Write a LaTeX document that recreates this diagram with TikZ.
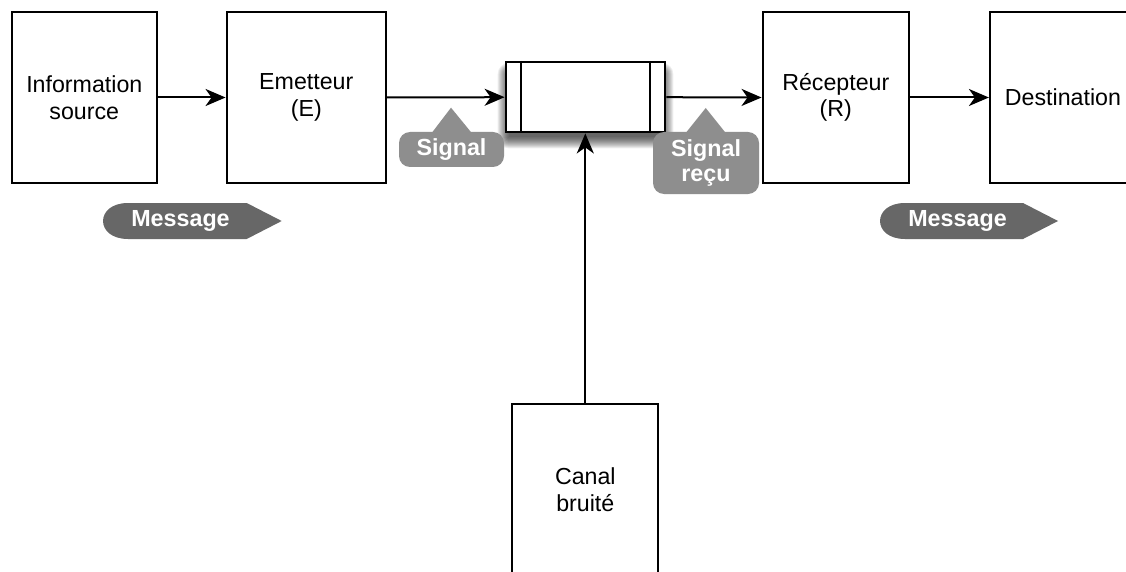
\documentclass[tikz,border=0pt]{standalone}
\usepackage{fontspec}
\setmainfont{Liberation Sans}
\usetikzlibrary{arrows.meta}
\definecolor{taggray}{HTML}{8E8E8E}
\definecolor{msggray}{HTML}{676767}
\tikzset{
  box/.style={draw=black, line width=2.2pt, fill=white, inner sep=0pt, align=center,
    font=\fontsize{23.2}{26.7}\selectfont, minimum height=171pt},
  arr/.style={line width=2pt, -{Stealth[length=20pt,width=17pt,inset=6pt]}},
  tagtext/.style={text=white, font=\bfseries\fontsize{23.3}{25.7}\selectfont, align=center, inner sep=0pt},
  signaltag/.style={fill=taggray, rounded corners=11pt, inner sep=0pt, text=white,
    font=\bfseries\fontsize{23.3}{25.7}\selectfont, align=center},
  shadowlayer/.style={fill=black, opacity=0.07},
}
\begin{document}
\begin{tikzpicture}[x=1pt,y=-1pt]
\useasboundingbox (0,0) rectangle (1126,572);
\clip (0,0) rectangle (1126,572);
\fill[white] (0,0) rectangle (1126,572);

% boxes
\node[box, minimum width=145.3pt] (src) at (84.3,97.5) {Information\\source};
\node[box, minimum width=159.3pt] (em) at (306.3,97.5) {Emetteur\\(E)};
\node[box, minimum width=146.3pt] (rec) at (835.8,97.5) {R\'ecepteur\\(R)};
\node[box, minimum width=146pt] (dst) at (1063,97.5) {Destination};
\node[box, minimum width=146pt] (noise) at (585.3,489.5) {Canal\\bruit\'e};

% soft shadow of the channel box (stacked translucent layers)
\foreach \r in {0,1,...,11}{
  \fill[shadowlayer, rounded corners=\r pt]
    (505.7-\r+3, 62+6-\r+6) rectangle (665.3+\r-3, 132.3+5+\r);
}
% channel box
\node[draw=black, line width=2.2pt, fill=white, minimum width=159.6pt, minimum height=70.3pt,
  inner sep=0pt] (ch) at (585.5,97.2) {};
\draw[line width=2.2pt] ([xshift=16.3pt]ch.north west) -- ([xshift=16.3pt]ch.south west);
\draw[line width=2.2pt] ([xshift=-16.3pt]ch.north east) -- ([xshift=-16.3pt]ch.south east);

% connectors
\draw[arr] (src.east) -- (em.west);
\draw[arr] (em.east) -- (ch.west);
\draw[arr] (ch.east) -- (rec.west);
\draw[arr] (rec.east) -- (dst.west);
\draw[arr] (noise.north) -- (noise.north |- ch.south);

% signal tags
\fill[taggray] (431.7,133) -- (451,107.7) -- (471.7,133) -- cycle;
\node[signaltag, minimum width=105pt, minimum height=35pt] (sig) at (451.5,149.5) {Signal};
\fill[taggray] (685.7,133) -- (705.7,108) -- (725.7,133) -- cycle;
\node[signaltag, minimum width=106pt, minimum height=62pt] (sigr) at (706,163) {Signal\\re\c{c}u};

% message tags
\fill[msggray] (128,203) -- (246.7,203) -- (281.7,221) -- (246.7,239) -- (128,239)
  .. controls (94.7,239) and (94.7,203) .. (128,203) -- cycle;
\node[tagtext] (msgA) at (180.5,221) {Message};
\fill[msggray] (905,203) -- (1023,203) -- (1058,221) -- (1023,239) -- (905,239)
  .. controls (871.7,239) and (871.7,203) .. (905,203) -- cycle;
\node[tagtext] (msgB) at (957.5,221) {Message};
\end{tikzpicture}
\end{document}
